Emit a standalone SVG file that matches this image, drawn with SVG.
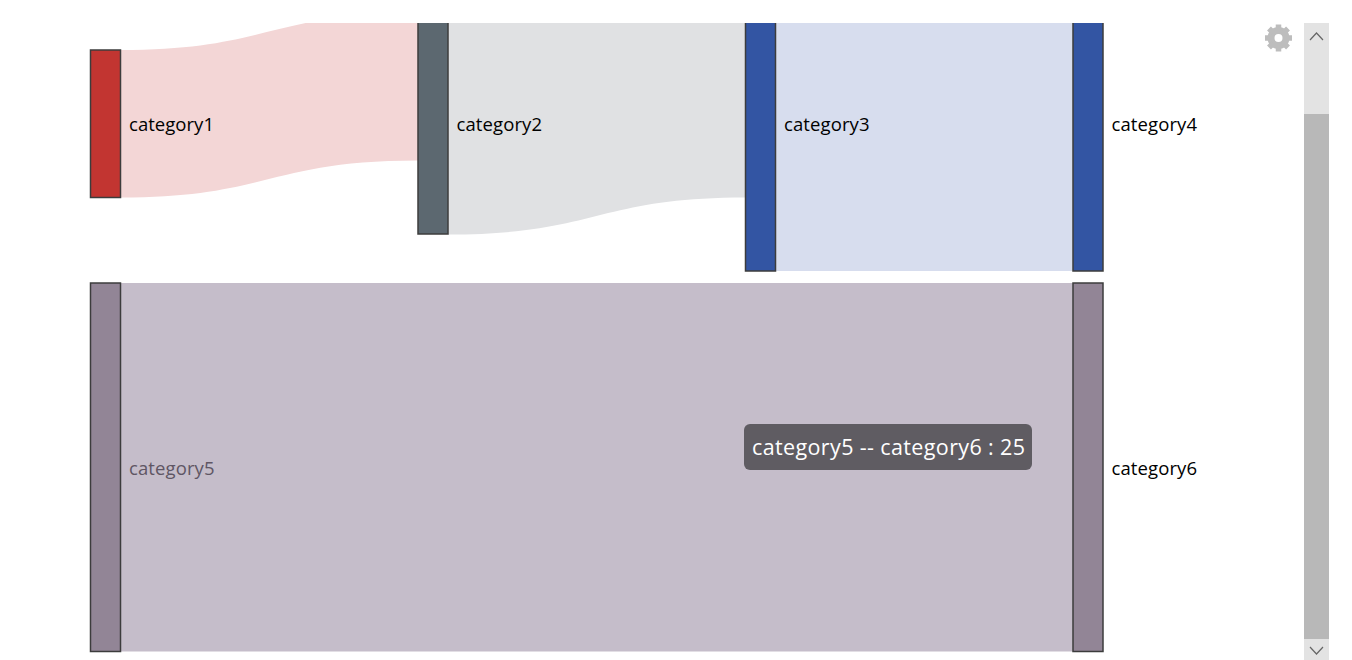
<svg xmlns="http://www.w3.org/2000/svg" width="1352" height="660" viewBox="0 0 1352 660">
<style>
text{font-family:"Open Sans","Noto Sans","Liberation Sans",sans-serif;font-size:18.500px;fill:#000}
.n{stroke:#3c3c3c;stroke-width:1.500}
</style>
<defs><clipPath id="c"><rect x="0" y="23" width="1352" height="637"/></clipPath></defs>
<rect width="1352" height="660" fill="#fff"/>
<g id="connectors" clip-path="url(#c)">
<path fill="#f3d6d6" d="M120.500,50C269,50 269,13 418,13V160.500C269,160.500 269,197.500 120.500,197.500Z"/>
<path fill="#e0e1e3" d="M448,13C596.500,13 596.500,-24 745.500,-24V197.500C596.500,197.500 596.500,234.500 448,234.500Z"/>
<path fill="#d7ddee" d="M776,-23H1073V271H776Z"/>
<path fill="#c5bdca" d="M120.500,283H1073V651.500H120.500Z"/>
</g>
<g clip-path="url(#c)">
<g id="category1"><rect class="n" x="90.500" y="50" width="30" height="147.500" fill="#c23531"/><text x="129" y="131" textLength="85">category1</text></g>
<g id="category2"><rect class="n" x="418" y="13" width="30" height="221" fill="#5c6870"/><text x="456.500" y="131" textLength="85.500">category2</text></g>
<g id="category3"><rect class="n" x="745.500" y="-23" width="30" height="294" fill="#3355a3"/><text x="784" y="131" textLength="85.500">category3</text></g>
<g id="category4"><rect class="n" x="1073" y="-23" width="30" height="294" fill="#3355a3"/><text x="1111.500" y="131" textLength="85.500">category4</text></g>
<g id="category5"><rect class="n" x="90.500" y="283" width="30" height="368.500" fill="#928596"/><text x="129" y="475" textLength="85.500" style="fill:#5f5664">category5</text></g>
<g id="category6"><rect class="n" x="1073" y="283" width="30" height="368.500" fill="#928596"/><text x="1111.500" y="475" textLength="85.500">category6</text></g>
</g>
<g id="tooltip"><rect x="744" y="424" width="288" height="46" rx="6" fill="#5f5c62"/><text x="752" y="454.500" textLength="273" style="font-size:21.500px;fill:#fff">category5 -- category6 : 25</text></g>
<g id="gear" fill="none" stroke="#bdbdbd"><circle cx="1278.500" cy="38" r="7.500" stroke-width="7"/><path d="M1278.500,24.500V30M1278.500,46V51.500M1265,38H1270.500M1286.500,38H1292M1269,28.500L1273,32.500M1284,43.500L1288,47.500M1288,28.500L1284,32.500M1273,43.500L1269,47.500" stroke-width="5.500"/></g>
<g id="scrollbar">
<rect x="1304" y="23" width="25" height="637" fill="#e3e3e3"/>
<rect x="1304" y="114" width="25" height="525" fill="#b8b8b8"/>
<path d="M1310,40L1316.500,33L1323,40M1310,647L1316.500,654L1323,647" fill="none" stroke="#666" stroke-width="1.200"/>
</g>
</svg>
